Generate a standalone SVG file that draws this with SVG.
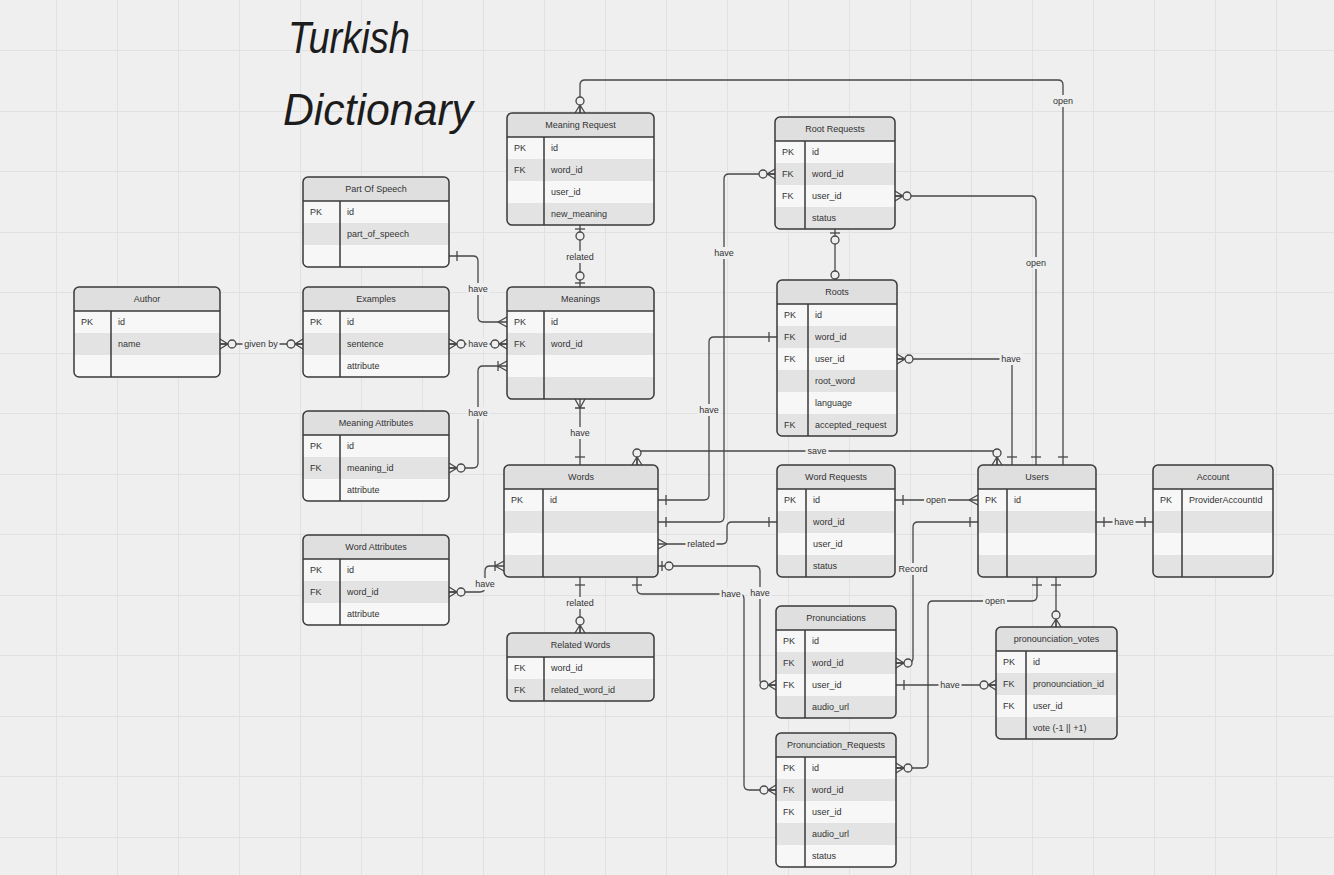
<svg xmlns="http://www.w3.org/2000/svg" width="1334" height="875" viewBox="0 0 1334 875">
<defs>
<style>
.bgc{fill:#efefef}
.grid{fill:none;stroke:#e1e1e1;stroke-width:1}
.bx{fill:#f7f7f7}
.hd{fill:#dfdfdf}
.al{fill:#e3e3e3}
.ol{fill:none;stroke:#3a3a3a;stroke-width:1.5}
.sp{stroke:#3a3a3a;stroke-width:1.5;fill:none}
.t{font-family:"Liberation Sans",Arial,sans-serif;font-size:9px;fill:#333}
.h{text-anchor:middle}
.c{fill:none;stroke:#474747;stroke-width:1.3}
.mk{fill:none;stroke:#474747;stroke-width:1.3}
.mc{fill:#efefef;stroke:#474747;stroke-width:1.3}
.lb{fill:#efefef}
.lt{font-family:"Liberation Sans",Arial,sans-serif;font-size:9px;fill:#333;text-anchor:middle}
.title{font-family:"Liberation Sans",Arial,sans-serif;font-style:italic;font-size:44px;fill:#1c1c1c}
</style>
<marker id="one" markerUnits="userSpaceOnUse" orient="auto-start-reverse" refX="0" refY="0" markerWidth="30" markerHeight="30" overflow="visible"><path class="mk" d="M-8,-5V5"/></marker>
<marker id="zeroOne" markerUnits="userSpaceOnUse" orient="auto-start-reverse" refX="0" refY="0" markerWidth="30" markerHeight="30" overflow="visible"><path class="mk" d="M-4,-5V5"/><circle class="mc" cx="-11" cy="0" r="4"/></marker>
<marker id="zeroMany" markerUnits="userSpaceOnUse" orient="auto-start-reverse" refX="0" refY="0" markerWidth="30" markerHeight="30" overflow="visible"><path class="mk" d="M-8,0L0,-5M-8,0L0,0M-8,0L0,5"/><circle class="mc" cx="-12" cy="0" r="4"/></marker>
<marker id="oneMany" markerUnits="userSpaceOnUse" orient="auto-start-reverse" refX="0" refY="0" markerWidth="30" markerHeight="30" overflow="visible"><path class="mk" d="M-9,0L0,-5M-9,0L0,5M-9,-5V5"/></marker>
<marker id="many" markerUnits="userSpaceOnUse" orient="auto-start-reverse" refX="0" refY="0" markerWidth="30" markerHeight="30" overflow="visible"><path class="mk" d="M-9,0L0,-5M-9,0L0,5"/></marker>
<marker id="zero" markerUnits="userSpaceOnUse" orient="auto-start-reverse" refX="0" refY="0" markerWidth="30" markerHeight="30" overflow="visible"><circle class="mc" cx="-5" cy="0" r="4"/></marker>
</defs>
<rect class="bgc" x="0" y="0" width="1334" height="875"/>
<path class="grid" d="M56.5,0V875M117.5,0V875M178.5,0V875M239.5,0V875M300.5,0V875M361.5,0V875M422.5,0V875M483.5,0V875M544.5,0V875M605.5,0V875M666.5,0V875M727.5,0V875M788.5,0V875M849.5,0V875M910.5,0V875M971.5,0V875M1032.5,0V875M1093.5,0V875M1154.5,0V875M1215.5,0V875M1276.5,0V875M0,50.5H1334M0,111.5H1334M0,171.5H1334M0,232.5H1334M0,292.5H1334M0,353.5H1334M0,413.5H1334M0,474.5H1334M0,534.5H1334M0,595.5H1334M0,655.5H1334M0,716.5H1334M0,776.5H1334M0,837.5H1334"/>

<g id="title">
<text class="title" x="288" y="53" textLength="122" lengthAdjust="spacingAndGlyphs">Turkish</text>
<text class="title" x="283" y="125" textLength="190" lengthAdjust="spacingAndGlyphs">Dictionary</text>
</g>

<g id="connectors">
<path class="c" d="M580,113V85Q580,80 585,80H1058Q1063,80 1063,85V465" marker-start="url(#zeroMany)" marker-end="url(#one)"/>
<path class="c" d="M580,225V287" marker-start="url(#zeroOne)" marker-end="url(#zeroOne)"/>
<path class="c" d="M449,256H473Q478,256 478,261V317Q478,322 483,322H507" marker-start="url(#one)" marker-end="url(#many)"/>
<path class="c" d="M220,344H303" marker-start="url(#zeroMany)" marker-end="url(#zeroMany)"/>
<path class="c" d="M449,344H507" marker-start="url(#zeroMany)" marker-end="url(#zeroMany)"/>
<path class="c" d="M449,468H473Q478,468 478,463V371Q478,366 483,366H507" marker-start="url(#zeroMany)" marker-end="url(#oneMany)"/>
<path class="c" d="M580,399V465" marker-start="url(#oneMany)" marker-end="url(#one)"/>
<path class="c" d="M449,592H480Q485,592 485,587V571Q485,566 490,566H504" marker-start="url(#zeroMany)" marker-end="url(#oneMany)"/>
<path class="c" d="M658,500H704Q709,500 709,495V342Q709,337 714,337H777" marker-start="url(#one)" marker-end="url(#one)"/>
<path class="c" d="M658,522H719Q724,522 724,517V179Q724,174 729,174H775" marker-start="url(#one)" marker-end="url(#zeroMany)"/>
<path class="c" d="M658,544H722Q727,544 727,539V527Q727,522 732,522H777" marker-start="url(#many)" marker-end="url(#one)"/>
<path class="c" d="M658,566H755Q760,566 760,571V680Q760,685 765,685H776" marker-start="url(#zeroOne)" marker-end="url(#zeroMany)"/>
<path class="c" d="M637,577V589Q637,594 642,594H739Q744,594 744,599V785Q744,790 749,790H776" marker-start="url(#one)" marker-end="url(#zeroMany)"/>
<path class="c" d="M580,577V633" marker-start="url(#one)" marker-end="url(#zeroMany)"/>
<path class="c" d="M637,465V456Q637,451 642,451H992Q997,451 997,456V465" marker-start="url(#zeroMany)" marker-end="url(#zeroMany)"/>
<path class="c" d="M895,196H1031Q1036,196 1036,201V465" marker-start="url(#zeroMany)" marker-end="url(#one)"/>
<path class="c" d="M897,359H1007Q1012,359 1012,364V465" marker-start="url(#zeroMany)" marker-end="url(#one)"/>
<path class="c" d="M835,229V280" marker-start="url(#zeroOne)" marker-end="url(#zero)"/>
<path class="c" d="M895,500H978" marker-start="url(#one)" marker-end="url(#many)"/>
<path class="c" d="M896,663H908Q913,663 913,658V527Q913,522 918,522H978" marker-start="url(#zeroMany)" marker-end="url(#one)"/>
<path class="c" d="M896,768H923Q928,768 928,763V606Q928,601 933,601H1032Q1037,601 1037,596V577" marker-start="url(#zeroMany)" marker-end="url(#one)"/>
<path class="c" d="M1056,577V627" marker-start="url(#one)" marker-end="url(#zeroMany)"/>
<path class="c" d="M896,685H996" marker-start="url(#one)" marker-end="url(#zeroMany)"/>
<path class="c" d="M1096,522H1153" marker-start="url(#one)" marker-end="url(#one)"/>

<rect class="lb" x="1051" y="95" width="24" height="12"/><text class="lt" x="1063" y="104">open</text>
<rect class="lb" x="564.5" y="251" width="31" height="12"/><text class="lt" x="580" y="260">related</text>
<rect class="lb" x="466.5" y="283" width="23" height="12"/><text class="lt" x="478" y="292">have</text>
<rect class="lb" x="242.5" y="338" width="37" height="12"/><text class="lt" x="261" y="347">given by</text>
<rect class="lb" x="466.5" y="338" width="23" height="12"/><text class="lt" x="478" y="347">have</text>
<rect class="lb" x="466.5" y="407" width="23" height="12"/><text class="lt" x="478" y="416">have</text>
<rect class="lb" x="568.5" y="427" width="23" height="12"/><text class="lt" x="580" y="436">have</text>
<rect class="lb" x="473.5" y="578" width="23" height="12"/><text class="lt" x="485" y="587">have</text>
<rect class="lb" x="697.5" y="404" width="23" height="12"/><text class="lt" x="709" y="413">have</text>
<rect class="lb" x="712.5" y="247" width="23" height="12"/><text class="lt" x="724" y="256">have</text>
<rect class="lb" x="685.5" y="538" width="31" height="12"/><text class="lt" x="701" y="547">related</text>
<rect class="lb" x="748.5" y="587" width="23" height="12"/><text class="lt" x="760" y="596">have</text>
<rect class="lb" x="719.5" y="588" width="23" height="12"/><text class="lt" x="731" y="597">have</text>
<rect class="lb" x="564.5" y="597" width="31" height="12"/><text class="lt" x="580" y="606">related</text>
<rect class="lb" x="805.5" y="445" width="23" height="12"/><text class="lt" x="817" y="454">save</text>
<rect class="lb" x="1024" y="257" width="24" height="12"/><text class="lt" x="1036" y="266">open</text>
<rect class="lb" x="999.5" y="353" width="23" height="12"/><text class="lt" x="1011" y="362">have</text>
<rect class="lb" x="924" y="494" width="24" height="12"/><text class="lt" x="936" y="503">open</text>
<rect class="lb" x="896.5" y="563" width="33" height="12"/><text class="lt" x="913" y="572">Record</text>
<rect class="lb" x="983" y="595" width="24" height="12"/><text class="lt" x="995" y="604">open</text>
<rect class="lb" x="938.5" y="679" width="23" height="12"/><text class="lt" x="950" y="688">have</text>
<rect class="lb" x="1112.5" y="516" width="23" height="12"/><text class="lt" x="1124" y="525">have</text>
</g>

<g id="meaning-request">
<rect class="bx" x="507" y="113" width="147" height="112" rx="5"/>
<path class="hd" d="M507,137V118A5,5 0 0 1 512,113H649A5,5 0 0 1 654,118V137Z"/>
<rect class="al" x="507" y="159" width="147" height="22"/>
<path class="al" d="M507,203H654V220A5,5 0 0 1 649,225H512A5,5 0 0 1 507,220Z"/>
<path class="sp" d="M507,137H654M544,137V225"/>
<rect class="ol" x="507" y="113" width="147" height="112" rx="5"/>
<text class="t h" x="580.5" y="128">Meaning Request</text>
<text class="t" x="514" y="151">PK</text><text class="t" x="551" y="151">id</text>
<text class="t" x="514" y="173">FK</text><text class="t" x="551" y="173">word_id</text>
<text class="t" x="551" y="195">user_id</text>
<text class="t" x="551" y="217">new_meaning</text>
</g>

<g id="root-requests">
<rect class="bx" x="775" y="117" width="120" height="112" rx="5"/>
<path class="hd" d="M775,141V122A5,5 0 0 1 780,117H890A5,5 0 0 1 895,122V141Z"/>
<rect class="al" x="775" y="163" width="120" height="22"/>
<path class="al" d="M775,207H895V224A5,5 0 0 1 890,229H780A5,5 0 0 1 775,224Z"/>
<path class="sp" d="M775,141H895M805,141V229"/>
<rect class="ol" x="775" y="117" width="120" height="112" rx="5"/>
<text class="t h" x="835" y="132">Root Requests</text>
<text class="t" x="782" y="155">PK</text><text class="t" x="812" y="155">id</text>
<text class="t" x="782" y="177">FK</text><text class="t" x="812" y="177">word_id</text>
<text class="t" x="782" y="199">FK</text><text class="t" x="812" y="199">user_id</text>
<text class="t" x="812" y="221">status</text>
</g>

<g id="part-of-speech">
<rect class="bx" x="303" y="177" width="146" height="90" rx="5"/>
<path class="hd" d="M303,201V182A5,5 0 0 1 308,177H444A5,5 0 0 1 449,182V201Z"/>
<rect class="al" x="303" y="223" width="146" height="22"/>
<path class="sp" d="M303,201H449M340,201V267"/>
<rect class="ol" x="303" y="177" width="146" height="90" rx="5"/>
<text class="t h" x="376" y="192">Part Of Speech</text>
<text class="t" x="310" y="215">PK</text><text class="t" x="347" y="215">id</text>
<text class="t" x="347" y="237">part_of_speech</text>
</g>

<g id="author">
<rect class="bx" x="74" y="287" width="146" height="90" rx="5"/>
<path class="hd" d="M74,311V292A5,5 0 0 1 79,287H215A5,5 0 0 1 220,292V311Z"/>
<rect class="al" x="74" y="333" width="146" height="22"/>
<path class="sp" d="M74,311H220M111,311V377"/>
<rect class="ol" x="74" y="287" width="146" height="90" rx="5"/>
<text class="t h" x="147" y="302">Author</text>
<text class="t" x="81" y="325">PK</text><text class="t" x="118" y="325">id</text>
<text class="t" x="118" y="347">name</text>
</g>

<g id="examples">
<rect class="bx" x="303" y="287" width="146" height="90" rx="5"/>
<path class="hd" d="M303,311V292A5,5 0 0 1 308,287H444A5,5 0 0 1 449,292V311Z"/>
<rect class="al" x="303" y="333" width="146" height="22"/>
<path class="sp" d="M303,311H449M340,311V377"/>
<rect class="ol" x="303" y="287" width="146" height="90" rx="5"/>
<text class="t h" x="376" y="302">Examples</text>
<text class="t" x="310" y="325">PK</text><text class="t" x="347" y="325">id</text>
<text class="t" x="347" y="347">sentence</text>
<text class="t" x="347" y="369">attribute</text>
</g>

<g id="meanings">
<rect class="bx" x="507" y="287" width="147" height="112" rx="5"/>
<path class="hd" d="M507,311V292A5,5 0 0 1 512,287H649A5,5 0 0 1 654,292V311Z"/>
<rect class="al" x="507" y="333" width="147" height="22"/>
<path class="al" d="M507,377H654V394A5,5 0 0 1 649,399H512A5,5 0 0 1 507,394Z"/>
<path class="sp" d="M507,311H654M544,311V399"/>
<rect class="ol" x="507" y="287" width="147" height="112" rx="5"/>
<text class="t h" x="580.5" y="302">Meanings</text>
<text class="t" x="514" y="325">PK</text><text class="t" x="551" y="325">id</text>
<text class="t" x="514" y="347">FK</text><text class="t" x="551" y="347">word_id</text>
</g>

<g id="roots">
<rect class="bx" x="777" y="280" width="120" height="156" rx="5"/>
<path class="hd" d="M777,304V285A5,5 0 0 1 782,280H892A5,5 0 0 1 897,285V304Z"/>
<rect class="al" x="777" y="326" width="120" height="22"/>
<rect class="al" x="777" y="370" width="120" height="22"/>
<path class="al" d="M777,414H897V431A5,5 0 0 1 892,436H782A5,5 0 0 1 777,431Z"/>
<path class="sp" d="M777,304H897M808,304V436"/>
<rect class="ol" x="777" y="280" width="120" height="156" rx="5"/>
<text class="t h" x="837" y="295">Roots</text>
<text class="t" x="784" y="318">PK</text><text class="t" x="815" y="318">id</text>
<text class="t" x="784" y="340">FK</text><text class="t" x="815" y="340">word_id</text>
<text class="t" x="784" y="362">FK</text><text class="t" x="815" y="362">user_id</text>
<text class="t" x="815" y="384">root_word</text>
<text class="t" x="815" y="406">language</text>
<text class="t" x="784" y="428">FK</text><text class="t" x="815" y="428">accepted_request</text>
</g>

<g id="meaning-attributes">
<rect class="bx" x="303" y="411" width="146" height="90" rx="5"/>
<path class="hd" d="M303,435V416A5,5 0 0 1 308,411H444A5,5 0 0 1 449,416V435Z"/>
<rect class="al" x="303" y="457" width="146" height="22"/>
<path class="sp" d="M303,435H449M340,435V501"/>
<rect class="ol" x="303" y="411" width="146" height="90" rx="5"/>
<text class="t h" x="376" y="426">Meaning Attributes</text>
<text class="t" x="310" y="449">PK</text><text class="t" x="347" y="449">id</text>
<text class="t" x="310" y="471">FK</text><text class="t" x="347" y="471">meaning_id</text>
<text class="t" x="347" y="493">attribute</text>
</g>

<g id="word-attributes">
<rect class="bx" x="303" y="535" width="146" height="90" rx="5"/>
<path class="hd" d="M303,559V540A5,5 0 0 1 308,535H444A5,5 0 0 1 449,540V559Z"/>
<rect class="al" x="303" y="581" width="146" height="22"/>
<path class="sp" d="M303,559H449M340,559V625"/>
<rect class="ol" x="303" y="535" width="146" height="90" rx="5"/>
<text class="t h" x="376" y="550">Word Attributes</text>
<text class="t" x="310" y="573">PK</text><text class="t" x="347" y="573">id</text>
<text class="t" x="310" y="595">FK</text><text class="t" x="347" y="595">word_id</text>
<text class="t" x="347" y="617">attribute</text>
</g>

<g id="words">
<rect class="bx" x="504" y="465" width="154" height="112" rx="5"/>
<path class="hd" d="M504,489V470A5,5 0 0 1 509,465H653A5,5 0 0 1 658,470V489Z"/>
<rect class="al" x="504" y="511" width="154" height="22"/>
<path class="al" d="M504,555H658V572A5,5 0 0 1 653,577H509A5,5 0 0 1 504,572Z"/>
<path class="sp" d="M504,489H658M543,489V577"/>
<rect class="ol" x="504" y="465" width="154" height="112" rx="5"/>
<text class="t h" x="581" y="480">Words</text>
<text class="t" x="511" y="503">PK</text><text class="t" x="550" y="503">id</text>
</g>

<g id="related-words">
<rect class="bx" x="507" y="633" width="147" height="68" rx="5"/>
<path class="hd" d="M507,657V638A5,5 0 0 1 512,633H649A5,5 0 0 1 654,638V657Z"/>
<path class="al" d="M507,679H654V696A5,5 0 0 1 649,701H512A5,5 0 0 1 507,696Z"/>
<path class="sp" d="M507,657H654M544,657V701"/>
<rect class="ol" x="507" y="633" width="147" height="68" rx="5"/>
<text class="t h" x="580.5" y="648">Related Words</text>
<text class="t" x="514" y="671">FK</text><text class="t" x="551" y="671">word_id</text>
<text class="t" x="514" y="693">FK</text><text class="t" x="551" y="693">related_word_id</text>
</g>

<g id="word-requests">
<rect class="bx" x="777" y="465" width="118" height="112" rx="5"/>
<path class="hd" d="M777,489V470A5,5 0 0 1 782,465H890A5,5 0 0 1 895,470V489Z"/>
<rect class="al" x="777" y="511" width="118" height="22"/>
<path class="al" d="M777,555H895V572A5,5 0 0 1 890,577H782A5,5 0 0 1 777,572Z"/>
<path class="sp" d="M777,489H895M806,489V577"/>
<rect class="ol" x="777" y="465" width="118" height="112" rx="5"/>
<text class="t h" x="836" y="480">Word Requests</text>
<text class="t" x="784" y="503">PK</text><text class="t" x="813" y="503">id</text>
<text class="t" x="813" y="525">word_id</text>
<text class="t" x="813" y="547">user_id</text>
<text class="t" x="813" y="569">status</text>
</g>

<g id="users">
<rect class="bx" x="978" y="465" width="118" height="112" rx="5"/>
<path class="hd" d="M978,489V470A5,5 0 0 1 983,465H1091A5,5 0 0 1 1096,470V489Z"/>
<rect class="al" x="978" y="511" width="118" height="22"/>
<path class="al" d="M978,555H1096V572A5,5 0 0 1 1091,577H983A5,5 0 0 1 978,572Z"/>
<path class="sp" d="M978,489H1096M1007,489V577"/>
<rect class="ol" x="978" y="465" width="118" height="112" rx="5"/>
<text class="t h" x="1037" y="480">Users</text>
<text class="t" x="985" y="503">PK</text><text class="t" x="1014" y="503">id</text>
</g>

<g id="account">
<rect class="bx" x="1153" y="465" width="120" height="112" rx="5"/>
<path class="hd" d="M1153,489V470A5,5 0 0 1 1158,465H1268A5,5 0 0 1 1273,470V489Z"/>
<rect class="al" x="1153" y="511" width="120" height="22"/>
<path class="al" d="M1153,555H1273V572A5,5 0 0 1 1268,577H1158A5,5 0 0 1 1153,572Z"/>
<path class="sp" d="M1153,489H1273M1182,489V577"/>
<rect class="ol" x="1153" y="465" width="120" height="112" rx="5"/>
<text class="t h" x="1213" y="480">Account</text>
<text class="t" x="1160" y="503">PK</text><text class="t" x="1189" y="503">ProviderAccountId</text>
</g>

<g id="pronunciations">
<rect class="bx" x="776" y="606" width="120" height="112" rx="5"/>
<path class="hd" d="M776,630V611A5,5 0 0 1 781,606H891A5,5 0 0 1 896,611V630Z"/>
<rect class="al" x="776" y="652" width="120" height="22"/>
<path class="al" d="M776,696H896V713A5,5 0 0 1 891,718H781A5,5 0 0 1 776,713Z"/>
<path class="sp" d="M776,630H896M805,630V718"/>
<rect class="ol" x="776" y="606" width="120" height="112" rx="5"/>
<text class="t h" x="836" y="621">Pronunciations</text>
<text class="t" x="783" y="644">PK</text><text class="t" x="812" y="644">id</text>
<text class="t" x="783" y="666">FK</text><text class="t" x="812" y="666">word_id</text>
<text class="t" x="783" y="688">FK</text><text class="t" x="812" y="688">user_id</text>
<text class="t" x="812" y="710">audio_url</text>
</g>

<g id="pronunciation-requests">
<rect class="bx" x="776" y="733" width="120" height="134" rx="5"/>
<path class="hd" d="M776,757V738A5,5 0 0 1 781,733H891A5,5 0 0 1 896,738V757Z"/>
<rect class="al" x="776" y="779" width="120" height="22"/>
<rect class="al" x="776" y="823" width="120" height="22"/>
<path class="sp" d="M776,757H896M805,757V867"/>
<rect class="ol" x="776" y="733" width="120" height="134" rx="5"/>
<text class="t h" x="836" y="748">Pronunciation_Requests</text>
<text class="t" x="783" y="771">PK</text><text class="t" x="812" y="771">id</text>
<text class="t" x="783" y="793">FK</text><text class="t" x="812" y="793">word_id</text>
<text class="t" x="783" y="815">FK</text><text class="t" x="812" y="815">user_id</text>
<text class="t" x="812" y="837">audio_url</text>
<text class="t" x="812" y="859">status</text>
</g>

<g id="pronounciation-votes">
<rect class="bx" x="996" y="627" width="121" height="112" rx="5"/>
<path class="hd" d="M996,651V632A5,5 0 0 1 1001,627H1112A5,5 0 0 1 1117,632V651Z"/>
<rect class="al" x="996" y="673" width="121" height="22"/>
<path class="al" d="M996,717H1117V734A5,5 0 0 1 1112,739H1001A5,5 0 0 1 996,734Z"/>
<path class="sp" d="M996,651H1117M1026,651V739"/>
<rect class="ol" x="996" y="627" width="121" height="112" rx="5"/>
<text class="t h" x="1056.5" y="642">pronounciation_votes</text>
<text class="t" x="1003" y="665">PK</text><text class="t" x="1033" y="665">id</text>
<text class="t" x="1003" y="687">FK</text><text class="t" x="1033" y="687">pronounciation_id</text>
<text class="t" x="1003" y="709">FK</text><text class="t" x="1033" y="709">user_id</text>
<text class="t" x="1033" y="731">vote (-1 || +1)</text>
</g>
</svg>
